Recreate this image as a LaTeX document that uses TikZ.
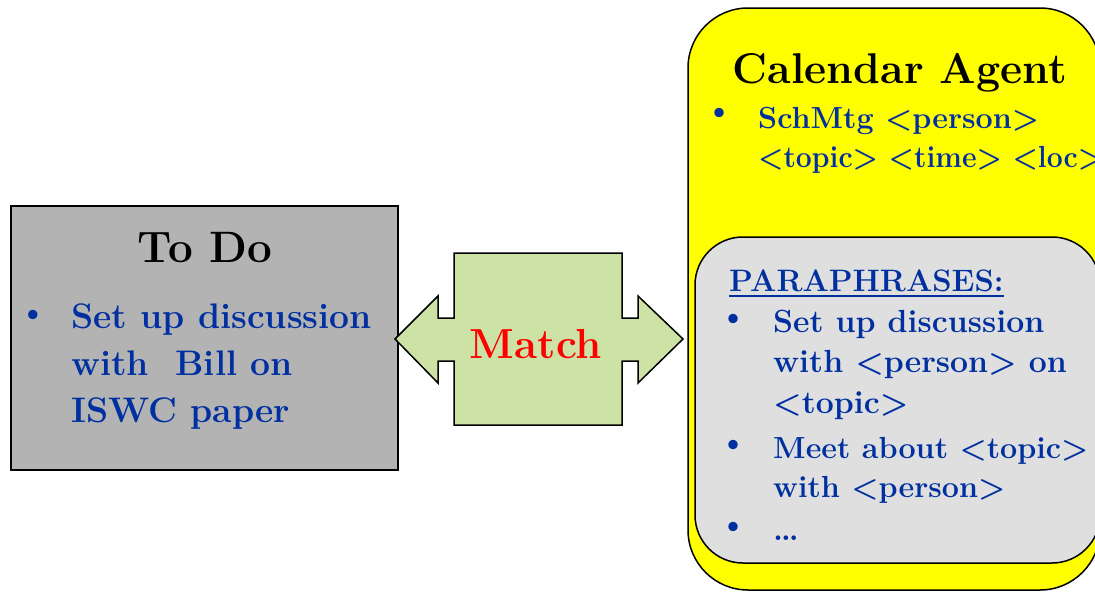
\documentclass[tikz,border=0pt]{standalone}
\usepackage{graphicx}
\usetikzlibrary{calc}
\definecolor{itemblue}{RGB}{0,48,160}
\definecolor{todogray}{RGB}{179,179,179}
\definecolor{paragray}{RGB}{223,223,223}
\definecolor{matchgreen}{RGB}{205,227,165}
\definecolor{agentyellow}{RGB}{255,255,0}
\tikzset{
  panel/.style={draw=black, line width=1.5, inner sep=0pt, outer sep=0pt},
  heading/.style={inner sep=0pt, anchor=base, font=\bfseries\fontsize{44}{50}\selectfont},
  % multi-line items are anchored at the baseline of their last line
  itemtext/.style={inner sep=0pt, anchor=base west, align=left, text=itemblue},
  bulletmark/.style={inner sep=0pt, text=itemblue, font=\bfseries\fontsize{32}{40}\selectfont},
}
\begin{document}
\begin{tikzpicture}[x=1pt, y=-1pt]
\useasboundingbox (0,0) rectangle (1095,592);
\clip (0,0) rectangle (1095,592);

% left panel
\node[panel, fill=todogray, minimum width=387, minimum height=264] (todo) at (204.5,338) {};
\node[heading] (todotitle) at (205,262) {To Do};
\node[bulletmark] (todob1) at (33,316) {\textbullet};
\node[itemtext, font=\bfseries\fontsize{35.5}{47}\selectfont] (todoitem) at (71,422)
  {Set up discussion\\with~ Bill on\\ISWC paper};

% agent panel
\node[panel, fill=agentyellow, rounded corners=60, minimum width=412, minimum height=582] (cal) at (894,299) {};
\node[heading, font=\bfseries\fontsize{43}{50}\selectfont] (caltitle) at (900,83) {Calendar Agent};
\node[bulletmark] (calb1) at (719,114) {\textbullet};
\node[itemtext, font=\bfseries\fontsize{30.5}{39}\selectfont] (calitem) at (758,167)
  {SchMtg <person>\\\scalebox{0.93}[1]{<topic> <time> <loc>}};

% paraphrase panel
\node[panel, fill=paragray, rounded corners=48, minimum width=405, minimum height=326] (para) at (897.5,400) {};
\node[itemtext, font=\bfseries\fontsize{31}{40}\selectfont] (parahead) at (729,291) {PARAPHRASES:};
\draw[itemblue, line width=2] ($(parahead.base west)+(0,5)$) -- ($(parahead.base east)+(0,5)$);
\node[bulletmark] (parab1) at (733,320) {\textbullet};
\node[itemtext, font=\bfseries\fontsize{32}{40.5}\selectfont] (paraitem1) at (773,413)
  {Set up discussion\\with <person> on\\<topic>};
\node[bulletmark] (parab2) at (733,446) {\textbullet};
\node[itemtext, font=\bfseries\fontsize{30.5}{39}\selectfont] (paraitem2) at (773,497)
  {Meet about <topic>\\with <person>};
\node[bulletmark] (parab3) at (733,528) {\textbullet};
\node[itemtext, font=\bfseries\fontsize{32}{39}\selectfont] (paraitem3) at (773,540) {\dots};

% double arrow between the panels
\draw[fill=matchgreen, line width=1.5, line join=miter]
  (395,339) -- (438,296) -- (438,318) -- (454,318) -- (454,253) -- (622,253)
  -- (622,318) -- (638,318) -- (638,296) -- (683,339) -- (638,383) -- (638,361)
  -- (622,361) -- (622,425) -- (454,425) -- (454,361) -- (438,361) -- (438,383) -- cycle;
\node[heading, text=red, font=\bfseries\fontsize{42}{50}\selectfont] (match) at (536,358) {Match};
\end{tikzpicture}
\end{document}
